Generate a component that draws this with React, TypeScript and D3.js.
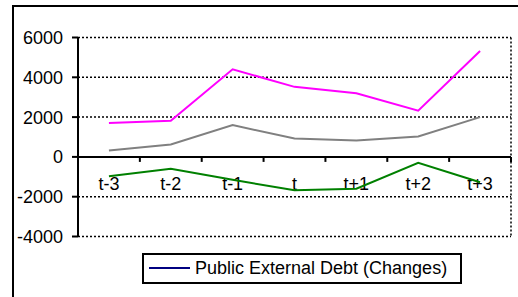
import React, { useEffect, useRef } from "react";
import * as d3 from "d3";

const categories = ["t-3", "t-2", "t-1", "t", "t+1", "t+2", "t+3"];
const magentaSeries = [1700, 1820, 4400, 3520, 3200, 2320, 5320];
const graySeries = [320, 620, 1600, 920, 820, 1030, 2000];
const greenSeries = [-970, -600, -1150, -1680, -1600, -300, -1270];
const yTicks = [-4000, -2000, 0, 2000, 4000, 6000];
const legendLabel = "Public External Debt (Changes)";

export default function App() {
  const ref = useRef<SVGSVGElement>(null);
  useEffect(() => {
    const svg = d3.select(ref.current);
    svg.selectAll("*").remove();
    const W = 518, H = 297;
    const font = "Liberation Sans, Arial, sans-serif";

    svg.append("rect").attr("width", W).attr("height", H).attr("fill", "#fff");
    svg.append("rect").attr("x", 13).attr("y", 6).attr("width", 540).attr("height", 320)
      .attr("fill", "none").attr("stroke", "#000").attr("stroke-width", 2);

    const left = 78, right = 511;
    const x = d3.scaleBand<string>().domain(categories).range([left, right]).padding(0);
    const y = d3.scaleLinear().domain([-4000, 6000]).range([236.5, 37.5]);
    const cx = (c: string) => (x(c) as number) + x.bandwidth() / 2;

    yTicks.filter(t => t !== 0).forEach(t => {
      svg.append("line").attr("x1", left).attr("x2", right).attr("y1", y(t)).attr("y2", y(t))
        .attr("stroke", "#000").attr("stroke-width", 1.5).attr("stroke-dasharray", "2,2");
    });
    svg.append("line").attr("x1", right).attr("x2", right).attr("y1", y(6000)).attr("y2", y(-4000))
      .attr("stroke", "#000").attr("stroke-width", 1.5).attr("stroke-dasharray", "2,2");

    svg.append("line").attr("x1", left).attr("x2", left).attr("y1", y(6000)).attr("y2", y(-4000))
      .attr("stroke", "#000").attr("stroke-width", 2);
    yTicks.forEach(t => {
      svg.append("line").attr("x1", left - 6).attr("x2", left).attr("y1", y(t)).attr("y2", y(t))
        .attr("stroke", "#000").attr("stroke-width", 2);
      svg.append("text").attr("x", left - 15).attr("y", y(t)).attr("dy", "0.36em")
        .attr("text-anchor", "end").attr("font-family", font).attr("font-size", 18)
        .text(String(t));
    });

    svg.append("line").attr("x1", left).attr("x2", right).attr("y1", y(0)).attr("y2", y(0))
      .attr("stroke", "#000").attr("stroke-width", 2);
    categories.forEach((c, i) => {
      const bx = (x(c) as number);
      if (i > 0) {
        svg.append("line").attr("x1", bx).attr("x2", bx).attr("y1", y(0)).attr("y2", y(0) + 5)
          .attr("stroke", "#000").attr("stroke-width", 2);
      }
      svg.append("text").attr("x", cx(c)).attr("y", y(0) + 33)
        .attr("text-anchor", "middle").attr("font-family", font).attr("font-size", 18)
        .text(c);
    });
    svg.append("line").attr("x1", right).attr("x2", right).attr("y1", y(0)).attr("y2", y(0) + 5)
      .attr("stroke", "#000").attr("stroke-width", 2);

    const line = d3.line<number>().x((_, i) => cx(categories[i])).y(d => y(d));
    const series: [number[], string][] = [
      [graySeries, "#808080"],
      [magentaSeries, "#FF00FF"],
      [greenSeries, "#008000"],
    ];
    series.forEach(([data, color]) => {
      svg.append("path").attr("d", line(data) as string).attr("fill", "none")
        .attr("stroke", color).attr("stroke-width", 2);
    });

    svg.append("rect").attr("x", 143).attr("y", 254).attr("width", 318).attr("height", 29)
      .attr("fill", "#fff").attr("stroke", "#000").attr("stroke-width", 2);
    svg.append("line").attr("x1", 149).attr("x2", 190).attr("y1", 268).attr("y2", 268)
      .attr("stroke", "#000080").attr("stroke-width", 2);
    svg.append("text").attr("x", 195).attr("y", 268).attr("dy", "0.36em")
      .attr("font-family", font).attr("font-size", 18).text(legendLabel);
  }, []);
  return (
    <svg ref={ref} width={518} height={297}
      style={{ position: "absolute", left: 0, top: 0, display: "block" }} />
  );
}
